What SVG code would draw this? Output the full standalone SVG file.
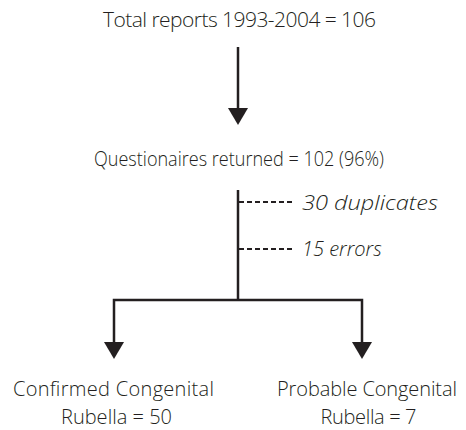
<svg xmlns="http://www.w3.org/2000/svg" width="466" height="430" viewBox="0 0 466 430">
<style>
.t{font-family:"Open Sans","Liberation Sans",sans-serif;font-weight:300;font-size:21px;fill:#231f20;text-anchor:middle}
.b{font-size:20px}
.i{font-family:"Open Sans","Liberation Sans",sans-serif;font-weight:300;font-style:italic;font-size:20px;fill:#231f20}
.ln{stroke:#231f20;stroke-width:2.5;fill:none}
.d{stroke:#231f20;stroke-width:2;fill:none;stroke-dasharray:5,3}
.ah{fill:#231f20}
</style>
<rect width="466" height="430" fill="#fff"/>
<g id="connectors">
<line class="ln" x1="238" y1="47" x2="238" y2="110"/>
<polygon class="ah" points="228,108 248,108 238,125"/>
<line class="ln" x1="238" y1="190" x2="238" y2="300"/>
<line class="d" x1="239" y1="202" x2="293" y2="202"/>
<line class="d" x1="239" y1="249" x2="293" y2="249"/>
<polyline class="ln" points="114,344 114,300 362,300 362,344"/>
<polygon class="ah" points="104,342 124,342 114,359"/>
<polygon class="ah" points="352,342 372,342 362,359"/>
</g>
<g id="total"><text class="t" x="239.5" y="27" textLength="273">Total reports 1993-2004 = 106</text></g>
<g id="questionaires"><text class="t" x="239" y="166" textLength="290" lengthAdjust="spacingAndGlyphs">Questionaires returned = 102 (96%)</text></g>
<g id="duplicates"><text class="i" x="302" y="210" textLength="136" lengthAdjust="spacingAndGlyphs">30 duplicates</text></g>
<g id="errors"><text class="i" x="302" y="256">15 errors</text></g>
<g id="confirmed"><text class="t b" x="113.5" y="396" textLength="201">Confirmed Congenital</text><text class="t b" x="116.5" y="424" textLength="111">Rubella = 50</text></g>
<g id="probable"><text class="t b" x="367" y="396" textLength="180">Probable Congenital</text><text class="t b" x="368.5" y="424" textLength="96">Rubella = 7</text></g>
</svg>
